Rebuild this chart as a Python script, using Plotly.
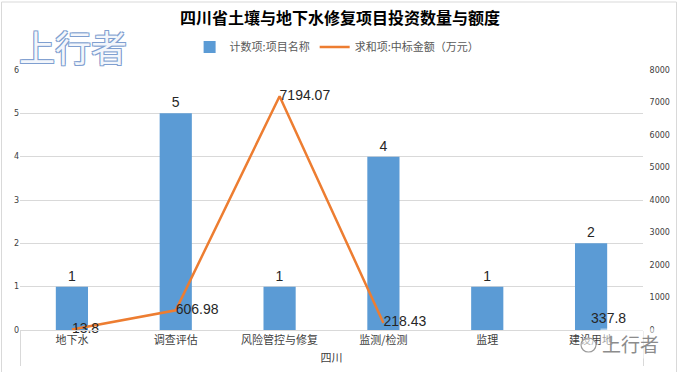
import plotly.graph_objects as go

# Data
region = "四川"
categories = ["地下水", "调查评估", "风险管控与修复", "监测/检测", "监理", "建设用地"]
project_counts = [1, 5, 1, 4, 1, 2]
bid_amounts = [13.8, 606.98, 7194.07, 218.43, None, 337.8]
left_ticks = [0, 1, 2, 3, 4, 5, 6]
right_ticks = [0, 1000, 2000, 3000, 4000, 5000, 6000, 7000, 8000]

x_multi = [[region] * len(categories), categories]

amount_text = ["" if v is None else f"{v:g}" for v in bid_amounts]

fig = go.Figure()
fig.add_trace(go.Bar(
    x=x_multi, y=project_counts, name="计数项:项目名称",
    marker=dict(color="#5B9BD5", line=dict(width=0)),
    text=[str(v) for v in project_counts], textposition="outside",
    textfont=dict(size=14, color="#262626", family="Liberation Sans"),
    cliponaxis=False,
))
fig.add_trace(go.Scatter(
    x=x_multi, y=bid_amounts, name="求和项:中标金额（万元）", yaxis="y2",
    mode="lines+text", line=dict(color="#ED7D31", width=2.5),
    text=amount_text, textposition="middle right",
    textfont=dict(size=14, color="#262626", family="Liberation Sans"),
    connectgaps=False, cliponaxis=False,
))

fig.update_layout(
    width=679, height=372,
    margin=dict(l=20, r=36, t=70, b=42, autoexpand=False),
    paper_bgcolor="white", plot_bgcolor="white",
    font=dict(family="Noto Sans CJK SC", color="#404040"),
    title=dict(text="<b>四川省土壤与地下水修复项目投资数量与额度</b>",
               x=0.5007, xanchor="center", y=1 - 18 / 372, yanchor="middle",
               font=dict(size=16, color="#000000", family="Noto Sans CJK SC")),
    showlegend=True,
    legend=dict(orientation="h", x=0.509, xanchor="center", y=1.088, yanchor="middle",
                font=dict(size=11, color="#595959"), itemwidth=30,
                bgcolor="rgba(0,0,0,0)"),
    bargap=0.69,
    xaxis=dict(type="multicategory", showline=True, linecolor="#d9d9d9", linewidth=1,
               showdividers=True, dividercolor="#d9d9d9", dividerwidth=1,
               tickfont=dict(size=11, color="#404040"), showgrid=False, ticks="",
               automargin=False),
    yaxis=dict(range=[0, 6], tickvals=left_ticks, showgrid=True, gridcolor="#d9d9d9",
               gridwidth=1, zeroline=False, showline=False, automargin=False,
               tickfont=dict(size=8, color="#404040", family="DejaVu Sans")),
    yaxis2=dict(range=[0, 8000], tickvals=right_ticks, overlaying="y", side="right",
                showgrid=False, zeroline=False, showline=False, automargin=False,
                ticks="outside", ticklen=4, tickcolor="rgba(0,0,0,0)",
                tickfont=dict(size=8, color="#404040", family="DejaVu Sans")),
)

# outer chart border
fig.add_shape(type="rect", xref="paper", yref="paper",
              x0=(1.5 - 20) / 623, x1=(676.5 - 20) / 623,
              y0=-0.2, y1=(330 - 2) / 260,
              line=dict(color="#d9d9d9", width=1), fillcolor="rgba(0,0,0,0)", layer="below")

# watermark top-left
fig.add_annotation(text="上行者", xref="paper", yref="paper",
                   x=(73 - 20) / 623, y=(330 - 46) / 260, showarrow=False,
                   xanchor="center", yanchor="middle",
                   font=dict(size=36, color="#f3f6fb", family="Noto Sans CJK SC",
                             shadow="-1px -1px 0 #7f9fd0, 1px -1px 0 #7f9fd0, -1px 1px 0 #7f9fd0, 1px 1px 0 #7f9fd0"))

# watermark bottom-right
fig.add_annotation(text="上行者", xref="paper", yref="paper",
                   x=(630 - 20) / 623, y=(330 - 343) / 260, showarrow=False,
                   xanchor="center", yanchor="middle",
                   bgcolor="rgba(255,255,255,0.5)",
                   font=dict(size=19, color="#8c8c8c", family="Noto Sans CJK SC"))
fig.add_shape(type="circle", xref="paper", yref="paper",
              x0=(581 - 20) / 623, x1=(596 - 20) / 623,
              y0=(330 - 352) / 260, y1=(330 - 338) / 260,
              line=dict(color="#9a9a9a", width=1.2), fillcolor="rgba(255,255,255,0.6)")

fig.write_html("out.html", config={"displayModeBar": False},
               post_script="document.body.style.margin='0';document.body.style.overflow='hidden';")
